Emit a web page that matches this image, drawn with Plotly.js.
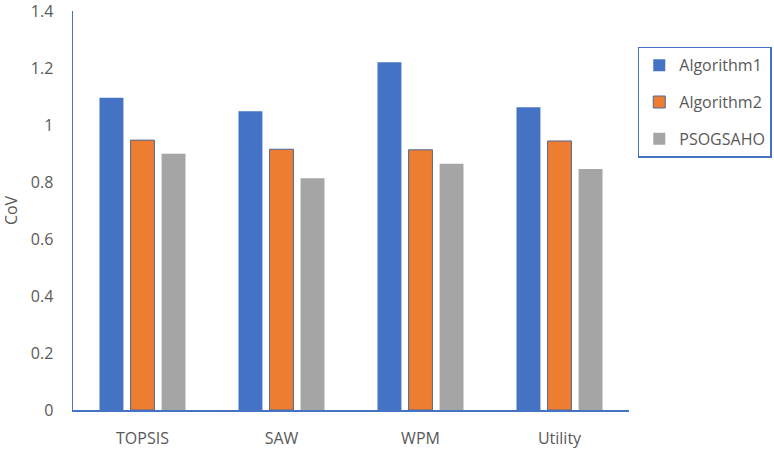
<!DOCTYPE html>
<html>
<head>
<meta charset="utf-8">
<script src="https://cdn.plot.ly/plotly-3.0.1.min.js"></script>
<style>html,body{margin:0;padding:0;background:#fff;}#chart{width:774px;height:450px;}</style>
</head>
<body>
<div id="chart"></div>
<script>
var categories = ["TOPSIS", "SAW", "WPM", "Utility"];
var algorithm1 = [1.096, 1.048, 1.220, 1.062];
var algorithm2 = [0.947, 0.915, 0.913, 0.944];
var psogsaho = [0.899, 0.813, 0.864, 0.846];
var seriesNames = ["Algorithm1", "Algorithm2", "PSOGSAHO"];
var yTicks = [0, 0.2, 0.4, 0.6, 0.8, 1, 1.2, 1.4];
var yTickText = ["0", "0.2", "0.4", "0.6", "0.8", "1", "1.2", "1.4"];

var textColor = "#595959";
var axisBlue = "#4472C4";
var fontFam = "'Open Sans', 'Noto Sans', sans-serif";

var traces = [
  {type: "bar", name: seriesNames[0], x: categories, y: algorithm1, legendgroup: "a",
   marker: {color: "#4472C4", line: {width: 0}}},
  {type: "bar", name: seriesNames[1], x: categories, y: algorithm2, legendgroup: "b",
   marker: {color: "#ED7D31", line: {width: 1, color: "#4F6A9A"}}},
  {type: "bar", name: seriesNames[2], x: categories, y: psogsaho, legendgroup: "c",
   marker: {color: "#A5A5A5", line: {width: 0}}}
];

var layout = {
  width: 774, height: 450,
  margin: {l: 73, r: 145, t: 11, b: 40, pad: 0, autoexpand: false},
  paper_bgcolor: "#fff", plot_bgcolor: "#fff",
  font: {family: fontFam, size: 16, color: textColor},
  barmode: "group", bargap: 0.33, bargroupgap: 0.23,
  hovermode: false,
  xaxis: {
    showline: true, linecolor: axisBlue, linewidth: 1.5,
    showgrid: false, zeroline: false, ticks: "",
    ticklabelstandoff: 13, automargin: false,
    tickfont: {family: fontFam, size: 16, color: textColor},
    fixedrange: true
  },
  yaxis: {
    range: [0, 1.4], showline: true, linecolor: axisBlue, linewidth: 1.5,
    showgrid: false, zeroline: false, ticks: "",
    tickmode: "array", tickvals: yTicks, ticktext: yTickText,
    ticklabelstandoff: 15, automargin: false, ticklabeloverflow: "allow",
    tickfont: {family: fontFam, size: 16, color: textColor},
    title: {text: "CoV", standoff: 12, font: {family: fontFam, size: 16, color: textColor}},
    fixedrange: true
  },
  showlegend: true,
  legend: {
    xref: "container", yref: "container",
    x: 0.824, y: 0.896, xanchor: "left", yanchor: "top",
    bordercolor: axisBlue, borderwidth: 1.5, bgcolor: "#fff",
    font: {family: fontFam, size: 16, color: textColor},
    traceorder: "grouped", tracegroupgap: 13,
    itemwidth: 30
  }
};

Plotly.newPlot("chart", traces, layout, {displayModeBar: false, staticPlot: true});
</script>
</body>
</html>
